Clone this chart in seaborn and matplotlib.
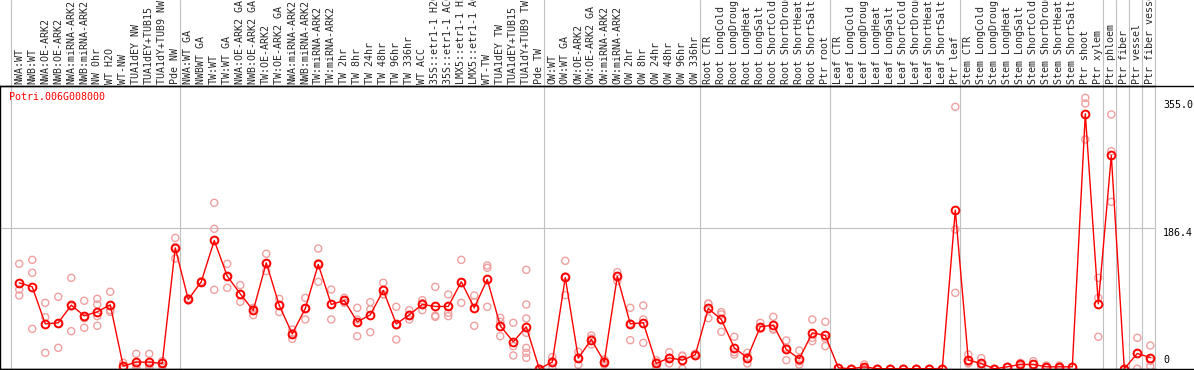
import numpy as np
import pandas as pd
import matplotlib
matplotlib.use("Agg")
import matplotlib.pyplot as plt
import matplotlib.transforms as mtransforms
from matplotlib.lines import Line2D
import seaborn as sns

sns.set_style("white")
plt.rcParams['font.family'] = ['DejaVu Sans Mono', 'DejaVu Sans']

# ---- data ----
gene = "Potri.006G008000"

labels = [
    "NWA:WT", "NWB:WT", "NWA:OE-ARK2", "NWB:OE-ARK2", "NWA:miRNA-ARK2", "NWB:miRNA-ARK2",
    "NW 0hr", "WT H2O", "WT-NW", "TUA1dEY NW", "TUA1dEY+TUB15", "TUA1dY+TUB9 NW", "Pde NW",
    "NWA:WT GA", "NWBWT GA", "TW:WT", "TW:WT GA", "NWA:OE-ARK2 GA", "NWB:OE-ARK2 GA",
    "TW:OE-ARK2", "TW:OE-ARK2 GA", "NWA:miRNA-ARK2", "NWB:miRNA-ARK2", "TW:miRNA-ARK2",
    "TW:miRNA-ARK2", "TW 2hr", "TW 8hr", "TW 24hr", "TW 48hr", "TW 96hr", "TW 336hr",
    "WT ACC", "35S::etr1-1 H2O", "35S::etr1-1 ACC", "LMX5::etr1-1 H2O", "LMX5::etr1-1 ACC",
    "WT-TW", "TUA1dEY TW", "TUA1dEY+TUB15", "TUA1dY+TUB9 TW", "Pde TW",
    "OW:WT", "OW:WT GA", "OW:OE-ARK2", "OW:OE-ARK2 GA", "OW:miRNA-ARK2", "OW:miRNA-ARK2",
    "OW 2hr", "OW 8hr", "OW 24hr", "OW 48hr", "OW 96hr", "OW 336hr",
    "Root CTR", "Root LongCold", "Root LongDrought", "Root LongHeat", "Root LongSalt",
    "Root ShortCold", "Root ShortDrought", "Root ShortHeat", "Root ShortSalt", "Ptr root",
    "Leaf CTR", "Leaf LongCold", "Leaf LongDrought", "Leaf LongHeat", "Leaf LongSalt",
    "Leaf ShortCold", "Leaf ShortDrought", "Leaf ShortHeat", "Leaf ShortSalt", "Ptr leaf",
    "Stem CTR", "Stem LongCold", "Stem LongDrought", "Stem LongHeat", "Stem LongSalt",
    "Stem ShortCold", "Stem ShortDrought", "Stem ShortHeat", "Stem ShortSalt", "Ptr shoot",
    "Ptr xylem", "Ptr phloem", "Ptr fiber", "Ptr vessel", "Ptr fiber vessel",
]

group_sizes = [13, 28, 12, 10, 10, 11, 1, 1, 1, 1]

means = [
    113.6, 108.3, 59.4, 60.8, 84.1, 70.0, 75.3, 84.6, 3.5, 8.8, 8.8, 7.0, 159.9,
    91.6, 115.0, 169.6, 122.5, 99.1, 77.1, 140.1, 83.7, 46.2, 79.7, 137.9, 85.0, 90.3,
    62.1, 71.3, 103.5, 59.4, 71.3, 85.0, 82.4, 82.4, 115.0, 80.6, 118.1, 56.8, 35.6, 55.5, 0.0,
    8.8, 120.7, 14.0, 38.7, 9.2, 122.0, 59.4, 60.8, 7.0, 14.5, 11.4, 18.5,
    79.7, 65.2, 27.7, 14.5, 55.5, 57.7, 25.5, 13.2, 47.5, 44.0,
    1.3, 0.0, 2.6, 0.0, 0.0, 0.0, 0.0, 0.0, 0.0, 209.7,
    11.4, 7.0, 0.0, 2.6, 5.7, 5.7, 2.6, 2.6, 2.6, 337.1,
    85.9, 282.0, 0.0, 20.2, 14.9,
]

replicates = [
    [138.8, 104.8, 96.9], [144.0, 126.9, 52.8], [87.2, 68.2, 21.1], [95.1, 59.6, 27.7],
    [120.2, 82.4, 49.7], [89.9, 66.9, 54.2], [92.5, 85.0, 69.6, 56.8], [101.8, 77.5, 75.3],
    [7.9, 1.3, 1.3], [19.8, 5.3, 1.3], [19.8, 5.3, 1.3], [10.1, 7.5, 3.5], [173.1, 161.0, 145.8],
    [93.0, 91.6, 90.2], [115.9, 115.0, 114.1], [219.4, 185.0, 104.4], [138.8, 121.7, 107.0],
    [110.6, 98.2, 88.5], [80.6, 79.8, 70.9], [152.0, 139.2, 129.1], [92.5, 83.7, 74.9],
    [51.9, 47.1, 39.6], [93.8, 80.1, 65.2], [159.0, 139.7, 115.0], [104.8, 85.0, 65.2],
    [93.8, 90.3, 87.2], [80.6, 65.2, 43.1], [88.1, 78.4, 48.4], [113.7, 98.2, 98.6],
    [81.9, 57.6, 38.7], [77.5, 71.2, 65.2], [90.7, 86.8, 77.5], [108.3, 70.2, 68.7],
    [98.2, 82.4, 74.0, 69.6], [144.0, 114.0, 87.2], [96.9, 88.1, 56.8], [136.6, 133.5, 81.9],
    [67.4, 62.1, 43.1], [60.8, 29.9, 17.6], [130.8, 85.0, 66.5, 47.5, 27.7, 21.1, 14.5],
    [0.0, 0.0],
    [15.4, 10.0, 1.0], [142.7, 122.1, 97.3], [22.4, 14.3, 5.3], [44.0, 40.0, 32.1],
    [12.3, 9.6, 5.7], [127.8, 122.3, 115.9], [80.6, 59.8, 37.8], [83.7, 65.2, 34.3],
    [11.4, 8.3, 1.3], [21.9, 14.6, 7.0], [16.7, 17.5, 0.0], [20.0, 17.0],
    [85.9, 86.3, 66.9], [74.9, 71.8, 48.9], [42.3, 21.9, 18.9], [21.1, 15.4, 7.0],
    [60.8, 52.9, 52.8], [68.7, 51.6, 52.8], [37.4, 27.7, 11.4], [24.2, 9.7, 5.7],
    [65.2, 40.8, 36.5], [62.1, 40.0, 29.9],
    [1.3, 1.3], [0.0, 0.0], [5.7, 2.0, 0.0], [0.0, 0.0], [0.0, 0.0], [0.0, 0.0],
    [0.0, 0.0], [0.0, 0.0], [0.0, 0.0], [346.3, 184.2, 100.4],
    [18.9, 8.3, 7.0], [14.0, 5.7, 1.3], [0.0, 0.0], [2.6, 2.6], [7.9, 5.7, 3.5],
    [10.1, 5.7, 1.3], [4.4, 2.6, 0.8], [4.4, 2.6, 0.8], [2.6, 2.6], [358.2, 350.7, 303.1],
    [120.2, 93.8, 42.3], [336.2, 287.7, 220.7], [0.0, 0.0], [41.0, 0.0], [30.8, 10.4, 3.5],
]

ticks = [0, 186.4, 355.0]

# ---- tidy tables ----
idx = np.arange(len(labels))
mean_df = pd.DataFrame({"pos": idx, "value": means})
rep_df = pd.DataFrame(
    [(i, v) for i, reps in enumerate(replicates) for v in reps],
    columns=["pos", "value"],
)

# ---- figure ----
W, H = 1194, 370
fig = plt.figure(figsize=(W / 100, H / 100), dpi=100)
top_px, bot_px, right_px = 85.5, 369.0, 1155
ax = fig.add_axes([0, (H - bot_px) / H, right_px / W, (bot_px - top_px) / H])
ax.set_facecolor("white")

grey = "#c0c0c0"
bounds = np.cumsum([0] + group_sizes) - 1 + 0.36
ax.set_xlim(-1.48, bounds[-1])
ax.set_ylim(-0.3, 374.5)

header_frac = 1 + top_px / (bot_px - top_px)
for b in bounds:
    ax.axvline(b, ymin=0, ymax=header_frac, color=grey, lw=0.8, clip_on=False, zorder=0)
ax.axhline(186.4, color=grey, lw=0.8, zorder=0)

# replicates
sns.scatterplot(data=rep_df, x="pos", y="value", ax=ax, marker="o", s=26,
                facecolors="none", edgecolor="#f0a0a0", linewidth=1.0,
                legend=False, zorder=2, clip_on=False)
# means
sns.lineplot(data=mean_df, x="pos", y="value", ax=ax, color="red", lw=1.0,
             marker="o", markersize=5.6, markerfacecolor="none",
             markeredgecolor="red", markeredgewidth=1.4, errorbar=None,
             legend=False, zorder=3, clip_on=False)

# axes decoration
for side in ["left", "top", "bottom"]:
    ax.spines[side].set_visible(True)
    ax.spines[side].set_color("black")
    ax.spines[side].set_linewidth(1.0)
ax.spines["right"].set_visible(False)

ax.xaxis.tick_top()
ax.set_xticks(idx)
ax.set_xticklabels(labels, rotation=90, fontsize=7.2)
ax.tick_params(axis="x", length=0, pad=1)
ax.set_yticks([])
ax.set_xlabel("")
ax.set_ylabel("")

# full-width black rules (header bottom and chart bottom)
for ypx in [top_px, bot_px]:
    fig.add_artist(Line2D([0, 1], [(H - ypx) / H] * 2, transform=fig.transFigure,
                          color="black", lw=1.0))

# right-hand scale labels
trans = mtransforms.blended_transform_factory(ax.transAxes, ax.transData)
xlab = 1163 / right_px
for t in ticks[1:]:
    ax.text(xlab, t, f"{t:.1f}", transform=trans, ha="left", va="top",
            fontsize=7.2, color="black", clip_on=False)
ax.text(xlab, 0, "0", ha="left", va="bottom", fontsize=7.2, color="black",
        transform=mtransforms.offset_copy(trans, fig=fig, y=4, units="dots"))

ax.text(9.3 / right_px, 1 - 11.2 / (bot_px - top_px), gene, transform=ax.transAxes,
        ha="left", va="center", fontsize=7.2, color="red")

fig.savefig("out.png", dpi=100)
